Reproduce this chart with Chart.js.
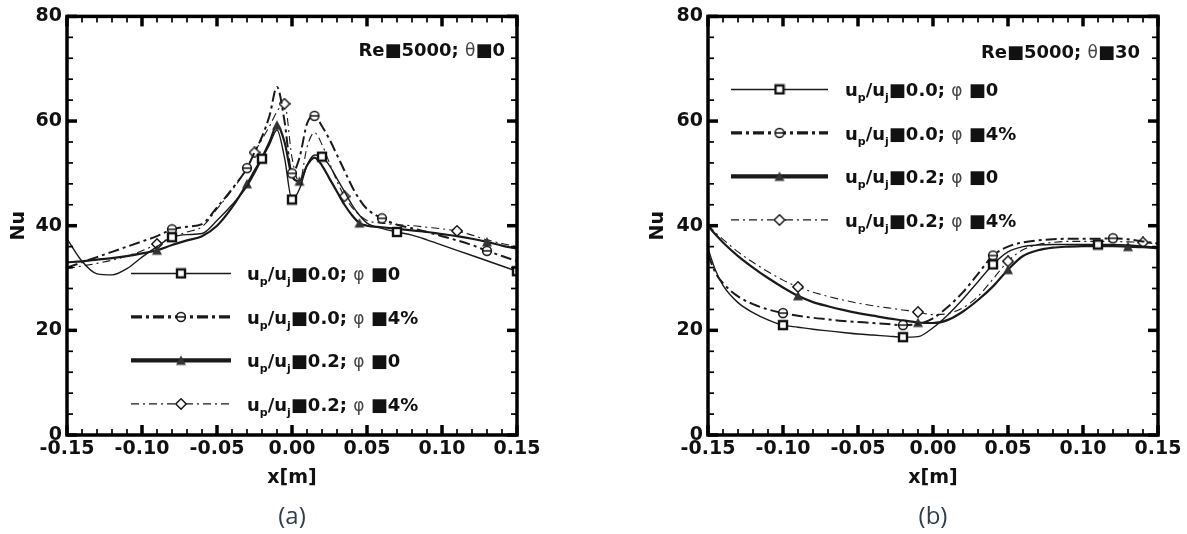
<!DOCTYPE html>
<html>
<head>
<meta charset="utf-8">
<script src="https://cdn.jsdelivr.net/npm/chart.js@4.4.1/dist/chart.umd.min.js"></script>
<style>
  html, body { margin: 0; padding: 0; background: #fff; }
  body { width: 1187px; height: 534px; position: relative; overflow: hidden; }
  .panel { position: absolute; top: 0; }
  .cap { position: absolute; top: 503px; width: 60px; margin-left: -30px; text-align: center;
         font: 24px 'Open Sans', sans-serif; color: #2e3d4f; line-height: 1; }
</style>
</head>
<body>
<canvas id="chartA" class="panel" width="560" height="534" style="left:0"></canvas>
<canvas id="chartB" class="panel" width="547" height="534" style="left:640px"></canvas>
<div class="cap" style="left:292px">(a)</div>
<div class="cap" style="left:933px">(b)</div>
<script>
// axis ticks
const xTickValues = [-0.15, -0.10, -0.05, 0, 0.05, 0.10, 0.15];
const yTickValues = [0, 20, 40, 60, 80];

// (a) theta = 0 : positions along the wall [m]
const xA = [-0.15, -0.14, -0.13, -0.12, -0.11, -0.10, -0.09, -0.08, -0.07, -0.06, -0.05, -0.04, -0.03, -0.025,
  -0.02, -0.015, -0.01, -0.005, 0, 0.005, 0.01, 0.015, 0.02, 0.025, 0.03, 0.035, 0.04, 0.045, 0.05,
  0.06, 0.07, 0.08, 0.09, 0.10, 0.11, 0.12, 0.13, 0.14, 0.15];
const nuA_up00_phi0 = [37.5, 33.2, 30.8, 30.6, 31.8, 34.0, 36.0, 37.8, 38.3, 38.5, 41.0, 44.0, 47.5, 50.0,
  52.8, 55.5, 58.3, 53.0, 45.0, 47.0, 51.5, 53.5, 53.2, 51.5, 49.0, 46.5, 44.0, 42.0, 40.5,
  39.5, 38.8, 38.2, 37.3, 36.3, 35.3, 34.3, 33.3, 32.3, 31.3];
const nuA_up00_phi4 = [32.0, 33.0, 34.0, 35.0, 36.0, 37.0, 38.0, 39.3, 39.8, 40.3, 43.5, 47.0, 51.0, 54.0,
  57.0, 61.0, 66.5, 60.0, 50.0, 53.0, 59.5, 61.0, 59.0, 56.5, 53.5, 50.5, 47.5, 45.0, 43.2,
  41.4, 40.2, 39.5, 38.8, 38.0, 37.2, 36.3, 35.2, 34.2, 33.2];
const nuA_up02_phi0 = [33.0, 33.2, 33.5, 33.8, 34.2, 34.7, 35.3, 36.3, 37.2, 38.0, 40.0, 43.5, 48.0, 50.5,
  53.0, 56.0, 59.2, 56.0, 49.5, 48.5, 51.5, 53.0, 51.5, 49.0, 46.5, 44.0, 42.0, 40.5, 40.0,
  39.7, 39.4, 39.1, 38.8, 38.4, 38.0, 37.5, 36.9, 36.2, 35.6];
const nuA_up02_phi4 = [31.8, 32.3, 32.8, 33.4, 34.2, 35.2, 36.5, 37.8, 38.8, 39.8, 43.2, 46.8, 51.0, 54.0,
  56.5, 59.0, 61.8, 63.3, 53.0, 48.3, 55.0, 57.8, 55.5, 52.0, 48.5, 45.6, 43.5, 42.0, 41.0,
  40.5, 40.2, 40.0, 39.7, 39.4, 39.0, 38.2, 37.3, 36.6, 36.0];
// indices of xA that carry a symbol
const marksA = [[7, 14, 18, 22, 30, 38], [7, 12, 18, 21, 29, 36], [6, 12, 16, 19, 27, 36], [6, 13, 17, 25, 34]];

// (b) theta = 30
const xB = [-0.15, -0.145, -0.14, -0.13, -0.12, -0.11, -0.10, -0.09, -0.08, -0.07, -0.06, -0.05, -0.04, -0.03,
  -0.02, -0.01, 0, 0.01, 0.02, 0.03, 0.04, 0.05, 0.06, 0.07, 0.08, 0.09, 0.10, 0.11, 0.12, 0.13, 0.14, 0.15];
const nuB_up00_phi0 = [35.6, 31.5, 28.6, 25.3, 23.4, 22.0, 21.0, 20.6, 20.2, 19.9, 19.6, 19.3, 19.1, 18.9,
  18.7, 18.8, 20.5, 23.0, 26.0, 29.3, 32.6, 35.0, 36.0, 36.3, 36.4, 36.4, 36.4, 36.4, 36.4, 36.3, 36.1, 35.9];
const nuB_up00_phi4 = [34.5, 31.0, 29.0, 26.5, 25.0, 24.0, 23.3, 22.8, 22.4, 22.1, 21.8, 21.6, 21.4, 21.2,
  21.0, 21.2, 22.3, 24.5, 27.3, 30.8, 34.3, 36.0, 36.8, 37.2, 37.4, 37.5, 37.5, 37.5, 37.6, 37.4, 37.0, 36.6];
const nuB_up02_phi0 = [40.0, 38.3, 36.8, 34.2, 32.0, 30.0, 28.2, 26.6, 25.4, 24.6, 23.9, 23.3, 22.8, 22.3,
  21.9, 21.5, 21.4, 22.0, 23.6, 25.8, 28.4, 31.6, 34.2, 35.3, 35.8, 36.0, 36.1, 36.1, 36.1, 36.0, 35.9, 35.7];
const nuB_up02_phi4 = [40.2, 38.7, 37.4, 35.0, 33.0, 31.2, 29.6, 28.3, 27.3, 26.5, 25.8, 25.2, 24.7, 24.3,
  23.9, 23.5, 23.0, 23.2, 24.3, 26.5, 29.8, 33.2, 35.4, 36.4, 36.8, 37.0, 37.0, 37.0, 37.0, 36.9, 36.8, 36.5];
const marksB = [[6, 14, 20, 27], [6, 14, 20, 28], [7, 15, 21, 29], [7, 15, 21, 30]];

// legend entries: u_p/u_j = ... ; phi = ...
const seriesNames = [
  [{t: 'u'}, {t: 'p', sub: 1}, {t: '/u'}, {t: 'j', sub: 1}, {t: '■0.0; '}, {t: 'φ', sym: 1}, {t: ' ■0'}],
  [{t: 'u'}, {t: 'p', sub: 1}, {t: '/u'}, {t: 'j', sub: 1}, {t: '■0.0; '}, {t: 'φ', sym: 1}, {t: ' ■4%'}],
  [{t: 'u'}, {t: 'p', sub: 1}, {t: '/u'}, {t: 'j', sub: 1}, {t: '■0.2; '}, {t: 'φ', sym: 1}, {t: ' ■0'}],
  [{t: 'u'}, {t: 'p', sub: 1}, {t: '/u'}, {t: 'j', sub: 1}, {t: '■0.2; '}, {t: 'φ', sym: 1}, {t: ' ■4%'}]
];
const captionA = [{t: 'Re■5000; '}, {t: 'θ', sym: 1}, {t: '■0'}];
const captionB = [{t: 'Re■5000; '}, {t: 'θ', sym: 1}, {t: '■30'}];

// line look per series
const lineWidths = [1.4, 2.0, 2.2, 1.1];
const legendWidths = [1.5, 3.2, 4.2, 1.2];
const lineDashes = [[], [11, 4, 3, 4], [], [8, 4, 2, 4]];
const ink = '#1a1a1a';
const axisFont = {family: 'DejaVu Sans', weight: 'bold', size: 19};

function marker(kind) {
  const c = document.createElement('canvas');
  c.width = 12; c.height = 12;
  const g = c.getContext('2d');
  g.strokeStyle = '#111'; g.fillStyle = '#fff';
  if (kind === 'square') {
    g.lineWidth = 2.4;
    g.fillRect(2, 2, 8, 8); g.strokeRect(2, 2, 8, 8);
  } else if (kind === 'circle') {
    g.lineWidth = 1.5;
    g.beginPath(); g.arc(6, 6, 4.4, 0, Math.PI * 2); g.fill(); g.stroke();
    g.beginPath(); g.moveTo(1.6, 6); g.lineTo(10.4, 6); g.stroke();
  } else if (kind === 'triangle') {
    g.fillStyle = '#333';
    g.beginPath(); g.moveTo(6, 1); g.lineTo(11, 10.5); g.lineTo(1, 10.5); g.closePath(); g.fill();
  } else {
    g.lineWidth = 1.4;
    g.beginPath(); g.moveTo(6, 0.8); g.lineTo(11.2, 6); g.lineTo(6, 11.2); g.lineTo(0.8, 6); g.closePath();
    g.fill(); g.stroke();
  }
  return c;
}
const markerImgs = [marker('square'), marker('circle'), marker('triangle'), marker('diamond')];

function partFont(p) {
  if (p.sub) return 'bold 11px "DejaVu Sans"';
  if (p.sym) return '17px "DejaVu Sans"';
  return 'bold 18px "DejaVu Sans"';
}

function drawRich(ctx, parts, x, y, align) {
  let w = 0;
  parts.forEach(p => { ctx.font = partFont(p); w += ctx.measureText(p.t).width; });
  let cx = align === 'right' ? x - w : x;
  ctx.textAlign = 'left';
  ctx.textBaseline = 'alphabetic';
  parts.forEach(p => {
    ctx.font = partFont(p);
    ctx.fillStyle = p.sym ? '#444' : '#111';
    ctx.fillText(p.t, cx, y + (p.sub ? 5 : 0));
    cx += ctx.measureText(p.t).width;
  });
}

// frame with inward ticks on all sides, in-plot legend and caption
const panelDecor = {
  id: 'panelDecor',
  afterDraw(chart, args, o) {
    const {ctx, chartArea: a, scales: {x, y}} = chart;
    ctx.save();
    ctx.strokeStyle = '#000';
    ctx.setLineDash([]);
    const seg = (x1, y1, x2, y2, w) => {
      ctx.lineWidth = w; ctx.beginPath(); ctx.moveTo(x1, y1); ctx.lineTo(x2, y2); ctx.stroke();
    };
    const nx = Math.round((x.max - x.min) / 0.01);
    for (let k = 0; k <= nx; k++) {
      const px = x.getPixelForValue(x.min + k * 0.01);
      const major = k % 5 === 0;
      const len = major ? 10 : 6, w = major ? 3.5 : 1.7;
      seg(px, a.bottom, px, a.bottom - len, w);
      seg(px, a.top, px, a.top + len, w);
    }
    const ny = Math.round((y.max - y.min) / 4);
    for (let k = 0; k <= ny; k++) {
      const py = y.getPixelForValue(y.min + k * 4);
      const major = k % 5 === 0;
      const len = major ? 10 : 6, w = major ? 3.5 : 1.7;
      seg(a.left, py, a.left + len, py, w);
      seg(a.right, py, a.right - len, py, w);
    }
    ctx.lineWidth = 3.5;
    ctx.strokeRect(a.left, a.top, a.width, a.height);

    chart.data.datasets.forEach((ds, i) => {
      const ly = a.top + o.legendTop + i * o.legendStep;
      ctx.strokeStyle = ink;
      ctx.lineWidth = legendWidths[i];
      ctx.setLineDash(lineDashes[i]);
      ctx.beginPath(); ctx.moveTo(a.left + o.lineFrom, ly); ctx.lineTo(a.left + o.lineTo, ly); ctx.stroke();
      ctx.setLineDash([]);
      const img = markerImgs[i];
      const mx = a.left + (o.lineFrom + o.lineTo) / 2;
      ctx.drawImage(img, mx - img.width / 2, ly - img.height / 2);
      drawRich(ctx, seriesNames[i], a.left + o.textX, ly + 7, 'left');
    });
    drawRich(ctx, o.caption, a.right - o.captionRight, a.top + o.captionY, 'right');
    ctx.restore();
  }
};

function buildDatasets(xs, ys, marks) {
  return ys.map((arr, i) => ({
    data: xs.map((v, k) => ({x: v, y: arr[k]})),
    borderColor: ink,
    borderWidth: lineWidths[i],
    borderDash: lineDashes[i],
    cubicInterpolationMode: 'monotone',
    fill: false,
    pointStyle: markerImgs[i],
    pointRadius: c => marks[i].includes(c.dataIndex) ? 5 : 0,
    pointHoverRadius: 0
  }));
}

function makePanel(id, xs, ys, marks, pad, yWidth, titlePad, decor) {
  return new Chart(document.getElementById(id), {
    type: 'line',
    data: {datasets: buildDatasets(xs, ys, marks)},
    options: {
      responsive: false,
      animation: false,
      events: [],
      layout: {padding: pad},
      plugins: {legend: {display: false}, tooltip: {enabled: false}, panelDecor: decor},
      scales: {
        x: {
          type: 'linear', min: -0.15, max: 0.15,
          afterBuildTicks: s => { s.ticks = xTickValues.map(v => ({value: v})); },
          afterFit: s => { s.height = 65; },
          ticks: {
            autoSkip: false, maxRotation: 0, padding: 3, color: '#111', font: axisFont,
            callback: v => (Math.abs(v) < 1e-9 ? 0 : v).toFixed(2)
          },
          grid: {display: false, drawTicks: false},
          border: {display: false},
          title: {display: true, text: 'x[m]', color: '#111', font: axisFont, padding: {top: 0, bottom: 11}}
        },
        y: {
          min: 0, max: 80,
          afterBuildTicks: s => { s.ticks = yTickValues.map(v => ({value: v})); },
          afterFit: s => { s.width = yWidth; },
          ticks: {padding: 5, color: '#111', font: axisFont},
          grid: {display: false, drawTicks: false},
          border: {display: false},
          title: {display: true, text: 'Nu', color: '#111', font: axisFont, padding: {top: titlePad, bottom: 0}}
        }
      }
    },
    plugins: [panelDecor]
  });
}

makePanel('chartA', xA, [nuA_up00_phi0, nuA_up00_phi4, nuA_up02_phi0, nuA_up02_phi4], marksA,
  {top: 15, right: 43, bottom: 34, left: 0}, 67, 8,
  {legendTop: 257, legendStep: 43.5, lineFrom: 64, lineTo: 164, textX: 180,
   caption: captionA, captionRight: 12, captionY: 40});

makePanel('chartB', xB, [nuB_up00_phi0, nuB_up00_phi4, nuB_up02_phi0, nuB_up02_phi4], marksB,
  {top: 15, right: 29, bottom: 34, left: 0}, 68, 7,
  {legendTop: 73, legendStep: 43.5, lineFrom: 23, lineTo: 120, textX: 137,
   caption: captionB, captionRight: 18, captionY: 42});
</script>
</body>
</html>
